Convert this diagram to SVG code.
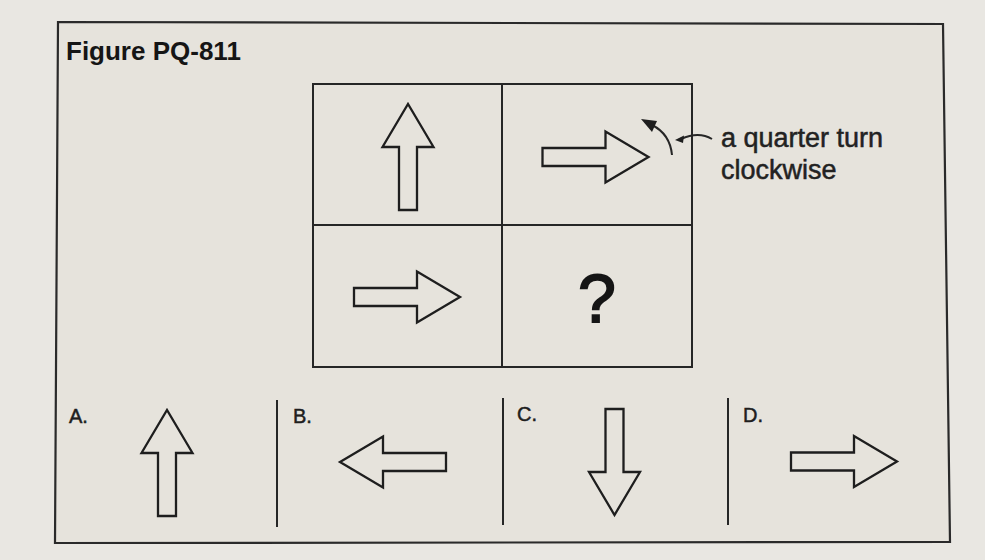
<svg xmlns="http://www.w3.org/2000/svg" width="985" height="560" viewBox="0 0 985 560">
<style>
.ln{fill:none;stroke:#262626;stroke-width:2}
.ar{fill:#e6e3dc;stroke:#1e1e1e;stroke-width:2.3;stroke-linejoin:miter}
.lbl{font-family:"Liberation Sans",Arial,sans-serif;font-size:20px;fill:#1e1e1e;stroke:#1e1e1e;stroke-width:0.5}
.txt{font-family:"Liberation Sans",Arial,sans-serif;font-size:27px;fill:#222;stroke:#222;stroke-width:0.5}
</style>
<defs>
<path id="arr" d="M-53,-9 H10 V-25.5 L53,0 L10,25.5 V9 H-53 Z"/>
</defs>
<rect x="0" y="0" width="985" height="560" fill="#e9e7e2"/>
<polygon points="58,22 943,24 950,542 55,543" fill="#e6e3dc" stroke="#2a2a2a" stroke-width="2.2"/>
<text id="title" x="66" y="60" font-family="'Liberation Sans',Arial,sans-serif" font-size="26" font-weight="bold" fill="#151515">Figure PQ-811</text>

<g id="grid">
<rect class="ln" x="313" y="84" width="379" height="283"/>
<line class="ln" x1="502" y1="84" x2="502" y2="367"/>
<line class="ln" x1="313" y1="225" x2="692" y2="225"/>
</g>
<g id="cell1"><use href="#arr" class="ar" transform="translate(408,157) rotate(-90)"/></g>
<g id="cell2"><use href="#arr" class="ar" transform="translate(595.5,157)"/></g>
<g id="cell3"><use href="#arr" class="ar" transform="translate(407,297)"/></g>
<g id="cell4"><text x="597" y="322" text-anchor="middle" font-family="'Liberation Sans',Arial,sans-serif" font-size="68" fill="#151515" stroke="#151515" stroke-width="1.8">?</text></g>

<g id="note">
<text class="txt" x="721" y="147">a quarter turn</text>
<text class="txt" x="721" y="179">clockwise</text>
</g>

<g id="connectors">
<path class="ln" d="M672,155 Q670,134 652,125"/>
<polygon points="641,119 657,121 652,132" fill="#1e1e1e"/>
<path class="ln" d="M712,139 C702,133 692,134 681,139" stroke-width="1.6"/>
<polygon points="675,140 684,135.5 683,143" fill="#1e1e1e"/>
</g>

<g id="optA">
<text class="lbl" x="69" y="423">A.</text>
<use href="#arr" class="ar" transform="translate(167,463) rotate(-90)"/>
</g>
<line class="ln" x1="277" y1="400" x2="277" y2="527"/>
<g id="optB">
<text class="lbl" x="293" y="423">B.</text>
<use href="#arr" class="ar" transform="translate(393,462) rotate(180)"/>
</g>
<line class="ln" x1="503" y1="398" x2="503" y2="525"/>
<g id="optC">
<text class="lbl" x="517" y="421">C.</text>
<use href="#arr" class="ar" transform="translate(614.5,462) rotate(90)"/>
</g>
<line class="ln" x1="728" y1="398" x2="728" y2="525"/>
<g id="optD">
<text class="lbl" x="743" y="422">D.</text>
<use href="#arr" class="ar" transform="translate(844,461.5)"/>
</g>
</svg>
